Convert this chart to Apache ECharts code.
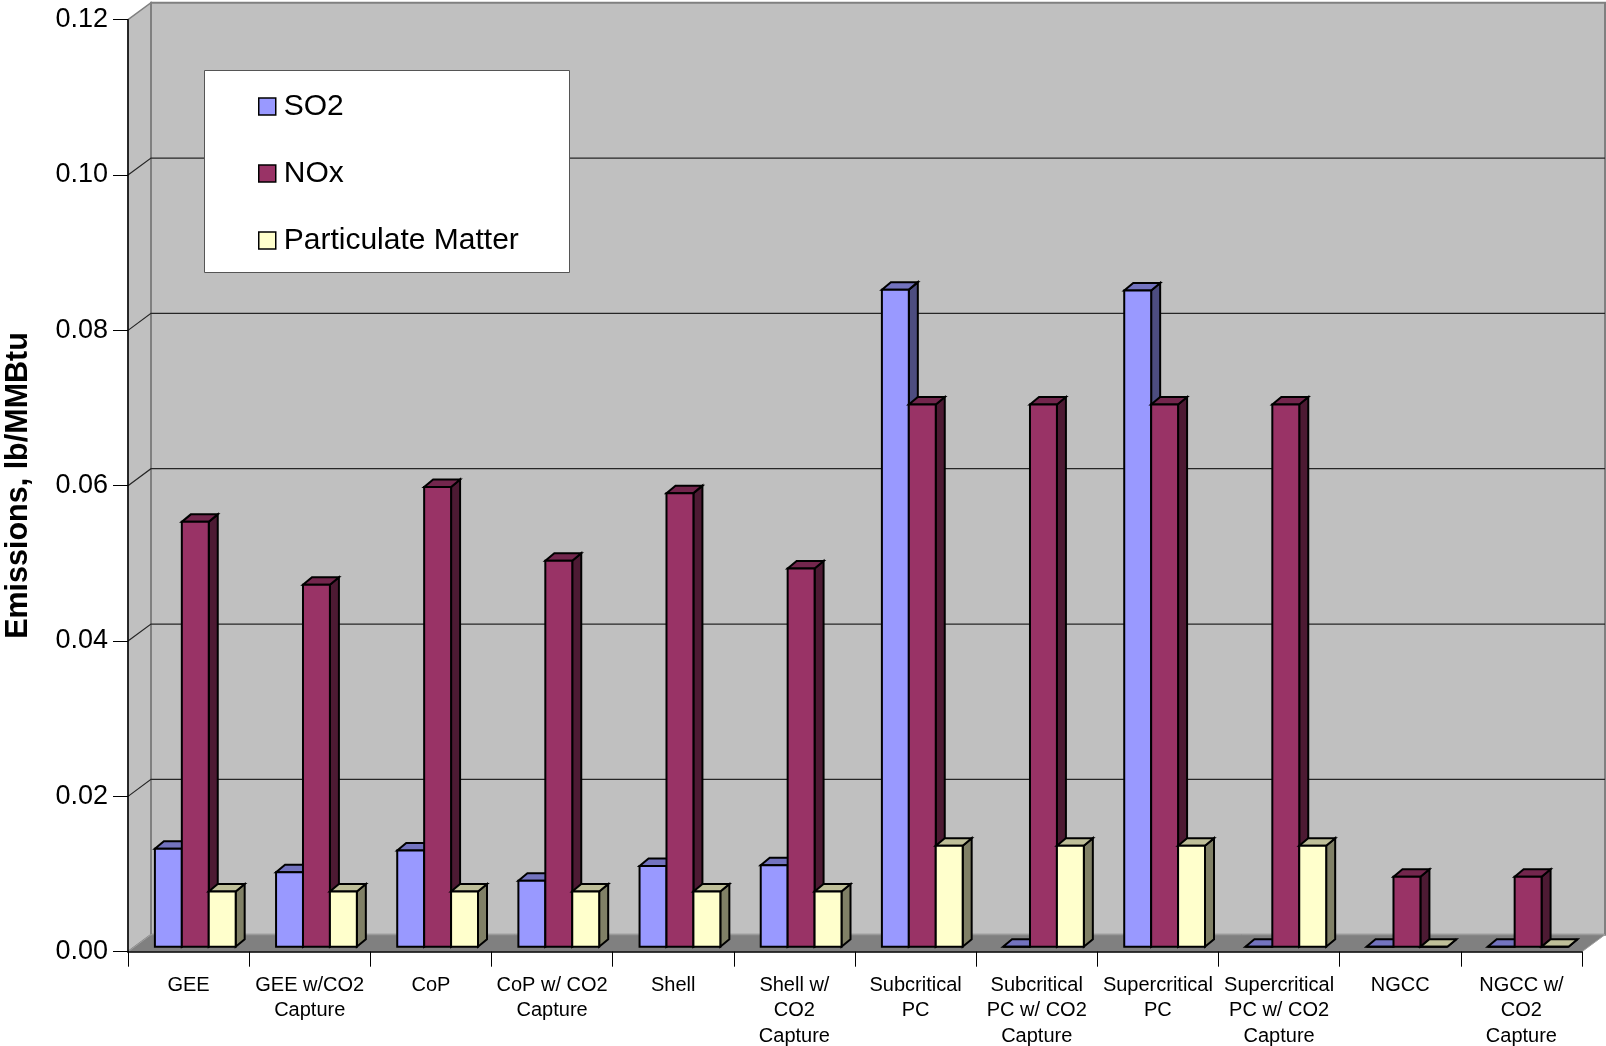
<!DOCTYPE html>
<html>
<head>
<meta charset="utf-8">
<title>Emissions, lb/MMBtu</title>
<script src="https://cdn.jsdelivr.net/npm/echarts@6/dist/echarts.min.js"></script>
<style>
  html, body { margin: 0; padding: 0; background: #ffffff; }
  #chart { width: 1606px; height: 1046px; }
</style>
</head>
<body>
<div id="chart"></div>
<script>
// Plant configurations along the category axis
const categories = [
  'GEE', 'GEE w/CO2\nCapture', 'CoP', 'CoP w/ CO2\nCapture', 'Shell',
  'Shell w/\nCO2\nCapture', 'Subcritical\nPC', 'Subcritical\nPC w/ CO2\nCapture',
  'Supercritical\nPC', 'Supercritical\nPC w/ CO2\nCapture', 'NGCC', 'NGCC w/\nCO2\nCapture'
];

// Emissions, lb/MMBtu
const so2 = [0.0126, 0.0096, 0.0124, 0.0085, 0.0104, 0.0105, 0.0846, 0, 0.0845, 0, 0, 0];
const nox = [0.0547, 0.0466, 0.0592, 0.0497, 0.0584, 0.0487, 0.0698, 0.0698, 0.0698, 0.0698, 0.0090, 0.0090];
const pm  = [0.0071, 0.0071, 0.0071, 0.0071, 0.0071, 0.0071, 0.0130, 0.0130, 0.0130, 0.0130, 0, 0];

const seriesNames = ['SO2', 'NOx', 'Particulate Matter'];

// Value axis ticks
const yTicks = [0, 0.02, 0.04, 0.06, 0.08, 0.10, 0.12];

const FONT = "'Liberation Sans', Arial, Helvetica, sans-serif";

// Pseudo-3D geometry: wall depth, bar placement inside the depth, bar depth
const WALL_DX = 23, WALL_DY = -17;
const BAR_OFF_X = 6.7, BAR_OFF_Y = -5;
const BAR_DX = 9, BAR_DY = -7.5;

// Face colours per series: front, top, side
const faces = [
  { front: '#9999FF', top: '#7373BF', side: '#4D4D80' },
  { front: '#993366', top: '#73264D', side: '#4D1A33' },
  { front: '#FFFFCC', top: '#BFBF99', side: '#808066' }
];

function frameRenderItem(params, api) {
  const cs = params.coordSys;
  const x0 = cs.x, x1 = cs.x + cs.width;
  const yBot = api.coord([0, yTicks[0]])[1];
  const yTop = api.coord([0, yTicks[yTicks.length - 1]])[1];
  const children = [];
  // left side wall
  children.push({
    type: 'polygon',
    shape: { points: [[x0, yTop], [x0 + WALL_DX, yTop + WALL_DY], [x0 + WALL_DX, yBot + WALL_DY], [x0, yBot]] },
    style: { fill: '#C0C0C0', stroke: '#808080', lineWidth: 1.5 }
  });
  // back wall
  children.push({
    type: 'rect',
    shape: { x: x0 + WALL_DX, y: yTop + WALL_DY, width: x1 - x0, height: yBot - yTop },
    style: { fill: '#C0C0C0', stroke: '#808080', lineWidth: 2 }
  });
  // floor
  children.push({
    type: 'polygon',
    shape: { points: [[x0, yBot], [x1, yBot], [x1 + WALL_DX, yBot + WALL_DY], [x0 + WALL_DX, yBot + WALL_DY]] },
    style: { fill: '#808080', stroke: '#A0A0A0', lineWidth: 1 }
  });
  // gridlines: across the side wall, then along the back wall
  for (let k = 1; k < yTicks.length - 1; k++) {
    const y = api.coord([0, yTicks[k]])[1];
    children.push({
      type: 'polyline',
      shape: { points: [[x0, y], [x0 + WALL_DX, y + WALL_DY], [x1 + WALL_DX, y + WALL_DY]] },
      style: { stroke: '#262626', lineWidth: 1.2, fill: null }
    });
  }
  return { type: 'group', children: children };
}

function makeBarRenderItem(s) {
  const c = faces[s];
  return function (params, api) {
    const i = api.value(0);
    const v = api.value(1);
    const base = api.coord([i, 0]);
    const top = api.coord([i, v]);
    const catW = api.size([1, 0])[0];
    const b = catW / 4.5;                       // 150% gap between clusters
    const x = base[0] - 1.5 * b + s * b + BAR_OFF_X;
    const yT = top[1] + BAR_OFF_Y;
    const yB = base[1] + BAR_OFF_Y;
    const stroke = { stroke: '#000000', lineWidth: 2, lineJoin: 'miter' };
    return {
      type: 'group',
      children: [
        {
          type: 'polygon',
          shape: { points: [[x + b, yT], [x + b + BAR_DX, yT + BAR_DY], [x + b + BAR_DX, yB + BAR_DY], [x + b, yB]] },
          style: Object.assign({ fill: c.side }, stroke)
        },
        {
          type: 'polygon',
          shape: { points: [[x, yT], [x + b, yT], [x + b + BAR_DX, yT + BAR_DY], [x + BAR_DX, yT + BAR_DY]] },
          style: Object.assign({ fill: c.top }, stroke)
        },
        {
          type: 'rect',
          shape: { x: x, y: yT, width: b, height: yB - yT },
          style: Object.assign({ fill: c.front }, stroke)
        }
      ]
    };
  };
}

const seriesData = [so2, nox, pm];

const chart = echarts.init(document.getElementById('chart'), null, { renderer: 'canvas' });

const option = {
  animation: false,
  backgroundColor: '#ffffff',
  textStyle: { fontFamily: FONT },
  grid: { left: 128, right: 24, top: 19.7, bottom: 94.3, containLabel: false, outerBoundsMode: 'none' },
  legend: {
    data: seriesNames,
    orient: 'vertical',
    left: 258,
    top: 91,
    padding: 0,
    itemGap: 36,
    itemWidth: 17,
    itemHeight: 17,
    icon: 'rect',
    z: 4,
    selectedMode: false,
    itemStyle: { borderColor: '#000000', borderWidth: 1.5 },
    textStyle: { fontFamily: FONT, fontSize: 30, lineHeight: 31, color: '#000000', padding: [0, 0, 0, 3] }
  },
  xAxis: {
    type: 'category',
    data: categories,
    z: 5,
    axisLine: { show: true, lineStyle: { color: '#000000', width: 1.5 } },
    axisTick: { show: true, length: 15, lineStyle: { color: '#000000', width: 1 } },
    axisLabel: { interval: 0, fontFamily: FONT, fontSize: 20, lineHeight: 25.5, color: '#000000', margin: 21 },
    splitLine: { show: false }
  },
  yAxis: {
    type: 'value',
    min: 0,
    max: 0.12,
    interval: 0.02,
    z: 5,
    axisLine: { show: true, lineStyle: { color: '#000000', width: 1.5 } },
    axisTick: { show: true, length: 15, lineStyle: { color: '#000000', width: 1 } },
    axisLabel: {
      fontFamily: FONT, fontSize: 27, color: '#000000', margin: 20,
      formatter: function (v) { return v.toFixed(2); }
    },
    splitLine: { show: false }
  },
  graphic: {
    elements: [
      {
        type: 'rect',
        z: 3,
        shape: { x: 204.5, y: 70.5, width: 365, height: 202 },
        style: { fill: '#ffffff', stroke: '#555555', lineWidth: 1 }
      },
      {
        type: 'text',
        z: 5,
        x: 19,
        y: 485.5,
        rotation: Math.PI / 2,
        style: {
          text: 'Emissions, lb/MMBtu',
          fontFamily: FONT,
          fontSize: 30.5,
          fontWeight: 'bold',
          fill: '#000000',
          align: 'center',
          verticalAlign: 'middle'
        }
      }
    ]
  },
  series: [
    {
      type: 'custom',
      name: 'frame',
      z: 1,
      silent: true,
      clip: false,
      renderItem: frameRenderItem,
      data: [[0, 0]]
    }
  ].concat(seriesNames.map(function (name, s) {
    return {
      type: 'custom',
      name: name,
      z: 2,
      clip: false,
      itemStyle: { color: faces[s].front, borderColor: '#000000', borderWidth: 1.5 },
      encode: { x: 0, y: 1 },
      renderItem: makeBarRenderItem(s),
      data: seriesData[s].map(function (v, i) { return [i, v]; })
    };
  }))
};

chart.setOption(option);
</script>
</body>
</html>
